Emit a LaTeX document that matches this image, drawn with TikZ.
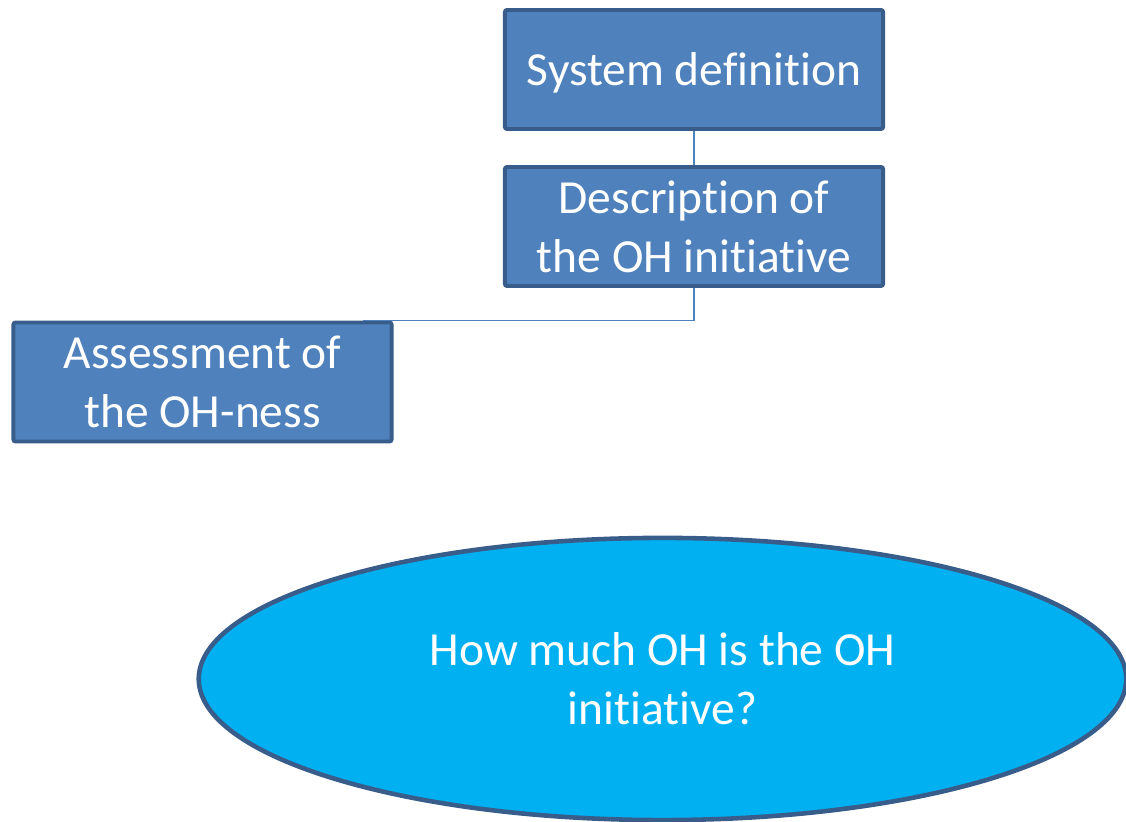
\documentclass[tikz,border=0pt]{standalone}
\usepackage{fontspec}
\setmainfont{Carlito}[RawFeature={-liga;-clig;-dlig;-calt}]
\usepackage{tikz}
\usetikzlibrary{shapes.geometric}
\definecolor{box_blue}{HTML}{4F81BD}
\definecolor{box_edge}{HTML}{385D8A}
\definecolor{sky_blue}{HTML}{00B0F0}

\begin{document}
\begin{tikzpicture}[x=0.01cm,y=-0.01cm,
    stepbox/.style={rectangle,rounded corners=0.6pt,fill=box_blue,draw=box_edge,line width=1.1pt,
      text=white,align=center,inner sep=0pt,minimum width=3.78cm,minimum height=1.19cm,
      font=\fontsize{13.5}{16.8}\selectfont},
    question/.style={ellipse,fill=sky_blue,draw=box_edge,line width=1.3pt,text=white,align=center,
      inner sep=0pt,minimum width=9.27cm,minimum height=2.82cm,font=\fontsize{13.5}{16.8}\selectfont},
    link/.style={draw=box_blue,line width=0.55pt}]
  \useasboundingbox (0,0) rectangle (1126,822);
  % boxes
  \node[stepbox,text depth=0pt] (sysdef) at (694,69.5) {System definition};
  \node[stepbox] (descr) at (694,226.5) {Description of\\the OH initiative};
  \node[stepbox] (assess) at (202.5,382) {Assessment of\\the OH-ness};
  \node[question] (howmuch) at (662.5,679) {How much OH is the OH\\initiative?};
  % links
  \draw[link] (sysdef) -- (descr);
  \draw[link] (descr.south) |- ([xshift=-0.31cm]assess.north east);
\end{tikzpicture}
\end{document}
